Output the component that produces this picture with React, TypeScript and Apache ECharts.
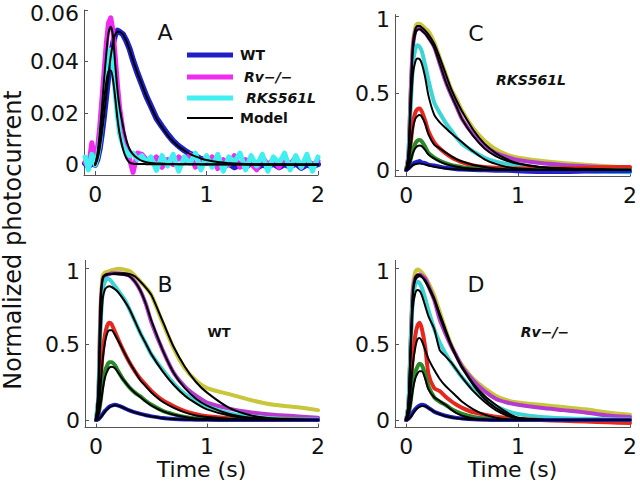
import React, { useEffect, useRef } from "react";
import * as echarts from "echarts";

// ---------- Panel A (single flash responses, three genotypes) ----------
const TA = [-0.09, -0.06, -0.03, 0, 0.02, 0.04, 0.06, 0.08, 0.1, 0.12, 0.14, 0.16, 0.18, 0.2, 0.22, 0.25, 0.28, 0.31, 0.34, 0.38, 0.42, 0.46,
  0.5, 0.55, 0.6, 0.65, 0.7, 0.75, 0.8, 0.85, 0.9, 0.95, 1.0, 1.05, 1.1, 1.15, 1.2, 1.25, 1.3, 1.35, 1.4, 1.45, 1.5, 1.55, 1.6, 1.65, 1.7, 1.75, 1.8, 1.85, 1.9, 1.95, 2.0];
const A_WT = [0.0005, -0.0008, 0.0006, 0.0, 0.002, 0.006, 0.012, 0.019, 0.027, 0.035, 0.042, 0.047, 0.0505, 0.052, 0.0515, 0.0505, 0.048, 0.0448, 0.0405, 0.0355, 0.031, 0.0265,
  0.0228, 0.018, 0.0148, 0.0118, 0.0092, 0.0072, 0.0056, 0.0042, 0.0034, 0.0022, 0.0016, 0.0008, 0.0012, -0.0006, 0.0004, -0.001, 0.0002, -0.0008, 0.0006, -0.0012, 0.0, -0.0006, 0.0004, -0.001, 0.0002, -0.0008, 0.0005, -0.0012, 0.0, -0.0006, 0.0002];
const A_RV = [0.001, -0.001, 0.0085, 0.002, 0.006, 0.014, 0.025, 0.036, 0.047, 0.055, 0.057, 0.052, 0.042, 0.031, 0.022, 0.013, 0.007, 0.002, -0.003, 0.0045, 0.004, 0.002,
  0.001, 0.003, -0.001, 0.002, 0.0, 0.003, 0.001, 0.004, -0.001, 0.002, 0.0005, 0.003, -0.0015, 0.002, 0.0, 0.0035, -0.001, 0.002, 0.0005, -0.002, 0.003, 0.0, 0.002, -0.001, 0.0025, 0.0, 0.003, -0.001, 0.002, 0.0, 0.0015];
const A_RKS = [0.003, -0.002, 0.004, 0.0, 0.003, 0.008, 0.016, 0.026, 0.036, 0.0435, 0.0445, 0.038, 0.028, 0.019, 0.012, 0.0075, 0.005, 0.0035, 0.0045, 0.002, 0.0035, 0.001,
  0.003, -0.0022, 0.0035, -0.0005, 0.004, -0.0025, 0.003, 0.0005, 0.0045, -0.002, 0.0035, -0.001, 0.004, -0.0025, 0.003, 0.001, 0.0045, -0.002, 0.0035, -0.0005, 0.004, -0.0025, 0.003, 0.0005, 0.0045, -0.002, 0.0035, -0.001, 0.004, -0.0025, 0.003];
const TAM = [0, 0.02, 0.04, 0.06, 0.08, 0.1, 0.12, 0.14, 0.16, 0.18, 0.2, 0.22, 0.25, 0.28, 0.31, 0.34, 0.38, 0.42, 0.46, 0.5, 0.55, 0.6, 0.65, 0.7, 0.75, 0.8, 0.85, 0.9, 0.95, 1.0, 1.1, 1.2, 1.4, 1.6, 1.8, 2.0];
const A_WT_MODEL = [0, 0.002, 0.006, 0.012, 0.019, 0.027, 0.035, 0.042, 0.047, 0.0505, 0.0516, 0.0515, 0.0505, 0.048, 0.0445, 0.0405, 0.0355, 0.031, 0.0265, 0.0225, 0.018, 0.0145, 0.0115, 0.009, 0.007, 0.0055, 0.0042, 0.0032, 0.0024, 0.0018, 0.001, 0.0006, 0.0002, 0.0001, 0, 0];
const A_RV_MODEL = [0, 0.004, 0.012, 0.022, 0.033, 0.043, 0.051, 0.0535, 0.05, 0.039, 0.029, 0.022, 0.015, 0.0095, 0.006, 0.004, 0.0025, 0.0015, 0.001, 0.0007, 0.0005, 0.0004, 0.0003, 0.0003, 0.0002, 0.0002, 0.0002, 0.0002, 0.0001, 0.0001, 0.0001, 0.0001, 0, 0, 0, 0];
const A_RKS_MODEL = [0, 0.003, 0.009, 0.017, 0.025, 0.032, 0.0362, 0.0365, 0.033, 0.026, 0.018, 0.012, 0.006, 0.0025, 0.0008, 0.0004, 0.0003, 0.0003, 0.0002, 0.0002, 0.0002, 0.0002, 0.0002, 0.0002, 0.0002, 0.0002, 0.0002, 0.0002, 0.0002, 0.0002, 0.0002, 0.0002, 0.0002, 0.0002, 0.0002, 0.0002];

// ---------- Panels B, C, D (flash series, normalized) ----------
const T = [0, 0.02, 0.04, 0.06, 0.08, 0.1, 0.12, 0.14, 0.17, 0.2, 0.25, 0.3, 0.35, 0.4, 0.45, 0.5, 0.6, 0.7, 0.8, 0.9, 1.0, 1.2, 1.4, 1.6, 1.8, 2.0];

// B: WT
const B_Y = [0, 0.15, 0.75, 0.95, 0.97, 0.975, 0.98, 0.985, 0.99, 0.995, 0.99, 0.98, 0.95, 0.91, 0.87, 0.82, 0.64, 0.47, 0.34, 0.26, 0.21, 0.17, 0.13, 0.1, 0.085, 0.065];
const B_Y_M = [0, 0.2, 0.8, 0.94, 0.955, 0.96, 0.962, 0.963, 0.965, 0.965, 0.965, 0.96, 0.945, 0.91, 0.87, 0.82, 0.65, 0.48, 0.35, 0.25, 0.18, 0.08, 0.03, 0.01, 0.003, 0];
const B_M = [0, 0.15, 0.7, 0.92, 0.945, 0.955, 0.96, 0.965, 0.965, 0.965, 0.96, 0.95, 0.91, 0.85, 0.76, 0.64, 0.46, 0.31, 0.22, 0.16, 0.115, 0.075, 0.05, 0.035, 0.025, 0.015];
const B_M_M = [0, 0.18, 0.75, 0.93, 0.95, 0.955, 0.958, 0.96, 0.96, 0.958, 0.955, 0.945, 0.91, 0.85, 0.76, 0.65, 0.46, 0.31, 0.21, 0.14, 0.095, 0.04, 0.015, 0.005, 0.001, 0];
const B_C = [0, 0.15, 0.6, 0.85, 0.91, 0.93, 0.925, 0.91, 0.88, 0.85, 0.8, 0.73, 0.65, 0.57, 0.5, 0.43, 0.33, 0.24, 0.17, 0.125, 0.09, 0.045, 0.022, 0.012, 0.006, 0.003];
const B_C_M = [0, 0.15, 0.55, 0.8, 0.86, 0.875, 0.88, 0.875, 0.86, 0.84, 0.79, 0.73, 0.65, 0.57, 0.5, 0.43, 0.32, 0.23, 0.16, 0.11, 0.07, 0.03, 0.01, 0.004, 0.001, 0];
const B_R = [0, 0.05, 0.25, 0.45, 0.56, 0.62, 0.64, 0.63, 0.58, 0.53, 0.45, 0.38, 0.32, 0.27, 0.23, 0.19, 0.13, 0.09, 0.058, 0.038, 0.025, 0.012, 0.007, 0.004, 0.002, 0];
const B_R_M = [0, 0.05, 0.22, 0.4, 0.51, 0.57, 0.59, 0.59, 0.56, 0.52, 0.45, 0.38, 0.32, 0.26, 0.22, 0.18, 0.12, 0.08, 0.05, 0.03, 0.02, 0.008, 0.003, 0.001, 0, 0];
const B_G = [0, 0.03, 0.12, 0.24, 0.32, 0.36, 0.38, 0.38, 0.36, 0.32, 0.26, 0.215, 0.18, 0.155, 0.125, 0.1, 0.06, 0.037, 0.02, 0.01, 0.006, 0.003, 0.002, 0.001, 0.001, 0];
const B_G_M = [0, 0.03, 0.1, 0.2, 0.28, 0.32, 0.345, 0.35, 0.34, 0.31, 0.26, 0.215, 0.18, 0.15, 0.12, 0.095, 0.058, 0.035, 0.02, 0.01, 0.006, 0.002, 0, 0, 0, 0];
const B_B = [0, 0.005, 0.02, 0.04, 0.06, 0.075, 0.088, 0.095, 0.1, 0.095, 0.08, 0.063, 0.05, 0.04, 0.031, 0.024, 0.013, 0.007, 0.004, 0.002, 0.001, 0, 0, 0, 0, 0];
const B_B_M = [0, 0.004, 0.017, 0.035, 0.055, 0.07, 0.083, 0.091, 0.097, 0.094, 0.08, 0.063, 0.05, 0.039, 0.03, 0.023, 0.012, 0.006, 0.003, 0.001, 0, 0, 0, 0, 0, 0];

// C: RKS561L
const C_Y = [0, 0.1, 0.5, 0.82, 0.92, 0.95, 0.95, 0.94, 0.92, 0.9, 0.83, 0.73, 0.63, 0.53, 0.46, 0.385, 0.27, 0.19, 0.135, 0.1, 0.08, 0.06, 0.045, 0.035, 0.025, 0.015];
const C_Y_M = [0, 0.1, 0.5, 0.82, 0.91, 0.935, 0.935, 0.925, 0.905, 0.88, 0.82, 0.73, 0.63, 0.53, 0.45, 0.38, 0.26, 0.17, 0.11, 0.07, 0.045, 0.02, 0.012, 0.008, 0.005, 0.003];
const C_M = [0, 0.1, 0.5, 0.8, 0.9, 0.92, 0.92, 0.91, 0.89, 0.86, 0.8, 0.69, 0.58, 0.49, 0.41, 0.33, 0.23, 0.16, 0.11, 0.085, 0.065, 0.045, 0.033, 0.025, 0.018, 0.012];
const C_M_M = [0, 0.1, 0.48, 0.78, 0.88, 0.91, 0.915, 0.905, 0.885, 0.855, 0.795, 0.69, 0.58, 0.49, 0.41, 0.33, 0.22, 0.14, 0.09, 0.06, 0.04, 0.018, 0.008, 0.003, 0.001, 0];
const C_C = [0, 0.08, 0.4, 0.68, 0.78, 0.81, 0.8, 0.77, 0.68, 0.58, 0.44, 0.37, 0.31, 0.26, 0.21, 0.17, 0.12, 0.08, 0.055, 0.04, 0.03, 0.012, 0, -0.008, -0.012, -0.015];
const C_C_M = [0, 0.08, 0.38, 0.62, 0.7, 0.725, 0.72, 0.69, 0.6, 0.48, 0.36, 0.31, 0.275, 0.24, 0.21, 0.18, 0.12, 0.07, 0.04, 0.02, 0.01, 0.003, 0, 0, 0, 0];
const C_R = [0, 0.04, 0.17, 0.3, 0.37, 0.395, 0.4, 0.38, 0.32, 0.25, 0.18, 0.14, 0.11, 0.085, 0.065, 0.05, 0.03, 0.02, 0.015, 0.012, 0.01, 0.01, 0.012, 0.015, 0.018, 0.02];
const C_R_M = [0, 0.04, 0.15, 0.27, 0.33, 0.35, 0.357, 0.345, 0.3, 0.23, 0.165, 0.14, 0.115, 0.09, 0.07, 0.055, 0.033, 0.02, 0.01, 0.005, 0.002, 0, 0, 0, 0, 0];
const C_G = [0, 0.02, 0.07, 0.13, 0.17, 0.19, 0.195, 0.185, 0.15, 0.11, 0.08, 0.06, 0.045, 0.033, 0.025, 0.018, 0.01, 0.005, 0.003, 0.001, 0, 0, 0, 0, 0, 0];
const C_G_M = [0, 0.02, 0.06, 0.11, 0.14, 0.155, 0.16, 0.155, 0.13, 0.1, 0.075, 0.055, 0.04, 0.03, 0.022, 0.015, 0.008, 0.004, 0.002, 0.001, 0, 0, 0, 0, 0, 0];
const C_B = [0, 0.01, 0.025, 0.04, 0.05, 0.055, 0.058, 0.05, 0.045, 0.035, 0.03, 0.022, 0.015, 0.01, 0.005, 0.003, 0, -0.002, -0.004, -0.005, -0.008, -0.012, -0.012, -0.01, -0.008, -0.008];
const C_B_M = [0, 0.008, 0.02, 0.032, 0.038, 0.041, 0.042, 0.04, 0.035, 0.029, 0.021, 0.015, 0.01, 0.007, 0.005, 0.003, 0.001, 0, 0, 0, 0, 0, 0, 0, 0, 0];

// D: Rv-/-
const D_Y = [0, 0.1, 0.55, 0.88, 0.97, 0.99, 0.985, 0.97, 0.94, 0.9, 0.82, 0.71, 0.6, 0.5, 0.42, 0.36, 0.27, 0.21, 0.16, 0.13, 0.115, 0.1, 0.085, 0.07, 0.05, 0.035];
const D_Y_M = [0, 0.1, 0.5, 0.85, 0.94, 0.955, 0.955, 0.945, 0.92, 0.88, 0.8, 0.7, 0.6, 0.5, 0.42, 0.35, 0.24, 0.16, 0.1, 0.05, 0.015, 0.002, 0, 0, 0, 0];
const D_M = [0, 0.1, 0.5, 0.85, 0.93, 0.95, 0.955, 0.95, 0.93, 0.88, 0.79, 0.66, 0.57, 0.49, 0.42, 0.35, 0.26, 0.19, 0.14, 0.115, 0.1, 0.08, 0.065, 0.05, 0.03, 0.02];
const D_M_M = [0, 0.1, 0.48, 0.83, 0.92, 0.94, 0.945, 0.94, 0.91, 0.87, 0.79, 0.68, 0.58, 0.49, 0.41, 0.34, 0.23, 0.14, 0.08, 0.04, 0.012, 0.002, 0, 0, 0, 0];
const D_C = [0, 0.1, 0.48, 0.8, 0.89, 0.91, 0.9, 0.87, 0.8, 0.72, 0.6, 0.51, 0.44, 0.38, 0.33, 0.28, 0.2, 0.14, 0.09, 0.06, 0.04, 0.02, 0.012, 0.008, 0.005, 0.003];
const D_C_M = [0, 0.1, 0.45, 0.74, 0.83, 0.855, 0.85, 0.82, 0.75, 0.68, 0.6, 0.46, 0.42, 0.38, 0.33, 0.28, 0.19, 0.12, 0.065, 0.03, 0.012, 0.002, 0, 0, 0, 0];
const D_R = [0, 0.05, 0.22, 0.42, 0.55, 0.62, 0.64, 0.6, 0.48, 0.3, 0.21, 0.19, 0.155, 0.125, 0.1, 0.08, 0.05, 0.035, 0.022, 0.014, 0.008, 0, -0.005, -0.01, -0.015, -0.02];
const D_R_M = [0, 0.05, 0.2, 0.37, 0.47, 0.53, 0.54, 0.52, 0.46, 0.4, 0.33, 0.27, 0.225, 0.19, 0.155, 0.12, 0.07, 0.035, 0.015, 0.005, 0, 0, 0, 0, 0, 0];
const D_G = [0, 0.03, 0.12, 0.24, 0.31, 0.35, 0.37, 0.36, 0.3, 0.22, 0.15, 0.12, 0.1, 0.075, 0.055, 0.04, 0.02, 0.01, 0.005, 0.002, 0, 0, 0, 0, 0, 0];
const D_G_M = [0, 0.03, 0.1, 0.2, 0.27, 0.305, 0.32, 0.32, 0.27, 0.2, 0.15, 0.125, 0.1, 0.07, 0.045, 0.028, 0.01, 0.004, 0.001, 0, 0, 0, 0, 0, 0, 0];
const D_B = [0, 0.008, 0.025, 0.05, 0.07, 0.085, 0.095, 0.1, 0.095, 0.08, 0.055, 0.04, 0.028, 0.02, 0.014, 0.01, 0.005, 0.002, 0, 0, 0, 0, 0, 0, 0, 0];
const D_B_M = [0, 0.006, 0.02, 0.042, 0.062, 0.077, 0.087, 0.092, 0.09, 0.078, 0.055, 0.038, 0.026, 0.018, 0.012, 0.008, 0.003, 0.001, 0, 0, 0, 0, 0, 0, 0, 0];

const X_TICKS = [0, 1, 2];
const Y_TICKS_A = [0, 0.02, 0.04, 0.06];
const Y_TICKS_N = [0, 0.5, 1];

const FONT = '"DejaVu Sans", "Liberation Sans", Arial, sans-serif';
const AXC = "#555";
const TXT = "#111";

const COL = {
  wt: "#1f1fc8",
  rv: "#f02cf0",
  rks: "#40f0f0",
  yellow: "#c8c63a",
  magenta: "#b53bd0",
  cyan: "#3cd4d4",
  red: "#e8261e",
  green: "#2a8a2a",
  blue: "#2020d0",
};

function xAx(gridIndex: number, name?: string) {
  return {
    type: "value",
    gridIndex,
    min: -0.1,
    max: 2,
    name: name || "",
    nameLocation: "middle",
    nameGap: 31,
    nameTextStyle: { fontSize: 22, fontFamily: FONT, color: TXT },
    axisLine: { show: true, onZero: false, lineStyle: { color: AXC, width: 1 } },
    axisTick: { show: true, inside: true, length: 4, lineStyle: { color: AXC }, customValues: X_TICKS },
    axisLabel: { customValues: X_TICKS, fontSize: 22, fontFamily: FONT, color: TXT, margin: 8 },
    splitLine: { show: false },
  };
}

function yAx(gridIndex: number, min: number, max: number, ticks: number[]) {
  const top = ticks[ticks.length - 1];
  return {
    type: "value",
    gridIndex,
    min,
    max,
    axisLine: { show: true, onZero: false, lineStyle: { color: AXC, width: 1 } },
    axisTick: { show: true, inside: true, length: 4, lineStyle: { color: AXC }, customValues: ticks },
    axisLabel: {
      customValues: ticks,
      fontSize: 22,
      lineHeight: 18,
      fontFamily: FONT,
      color: TXT,
      margin: 5,
      formatter: (v: number) => (v === top ? `{t|${v}}` : `${v}`),
      rich: { t: { fontSize: 22, lineHeight: 18, fontFamily: FONT, color: TXT, padding: [6, 0, 0, 0] } },
    },
    splitLine: { show: false },
  };
}

function line(idx: number, t: number[], v: number[], color: string, width: number, smooth: number) {
  return {
    type: "line",
    xAxisIndex: idx,
    yAxisIndex: idx,
    data: t.map((x, i) => [x, v[i]]),
    symbol: "none",
    showSymbol: false,
    smooth,
    silent: true,
    lineStyle: { color, width, cap: "round", join: "round" },
  };
}

function panelSeries(idx: number, sets: [number[], number[], string][]) {
  const data = sets.map(([d, , c]) => line(idx, T, d, c, 4, 0.25));
  const models = sets.map(([, m]) => line(idx, T, m, "#000", 2, 0.25));
  return [...data, ...models];
}

function text(x: number, y: number, s: string, size: number, opts: any = {}) {
  return {
    type: "text",
    x,
    y,
    rotation: opts.rotation || 0,
    silent: true,
    style: {
      text: s,
      fontSize: size,
      fontFamily: FONT,
      fontWeight: opts.bold ? "bold" : "normal",
      fontStyle: opts.italic ? "italic" : "normal",
      fill: TXT,
      align: opts.align || "center",
      textAlign: opts.align || "center",
      verticalAlign: "middle",
      textVerticalAlign: "middle",
    },
  };
}

function legLine(y: number, color: string, width: number) {
  return {
    type: "line",
    silent: true,
    shape: { x1: 187, y1: y, x2: 233, y2: y },
    style: { stroke: color, lineWidth: width },
  };
}

export default function App() {
  const ref = useRef<HTMLDivElement>(null);
  useEffect(() => {
    document.body.style.margin = "0";
    if (!ref.current) return;
    const chart = echarts.init(ref.current, null, { renderer: "svg" });
    const option = {
      animation: false,
      backgroundColor: "#fff",
      grid: [
        { left: 84, top: 10, width: 234, height: 165, containLabel: false, outerBoundsMode: "none" },
        { left: 85, top: 260.4, width: 233, height: 167.2, containLabel: false, outerBoundsMode: "none" },
        { left: 395, top: 14.5, width: 235, height: 161.7, containLabel: false, outerBoundsMode: "none" },
        { left: 395, top: 260.4, width: 235, height: 167.2, containLabel: false, outerBoundsMode: "none" },
      ],
      xAxis: [xAx(0), xAx(1, "Time (s)"), xAx(2), xAx(3, "Time (s)")],
      yAxis: [
        yAx(0, -0.004, 0.06, Y_TICKS_A),
        yAx(1, -0.05, 1.05, Y_TICKS_N),
        yAx(2, -0.04, 1.01, Y_TICKS_N),
        yAx(3, -0.05, 1.05, Y_TICKS_N),
      ],
      series: [
        line(0, TA, A_WT, COL.wt, 6, 0),
        line(0, TA, A_RV, COL.rv, 5, 0),
        line(0, TA, A_RKS, COL.rks, 5, 0),
        line(0, TAM, A_WT_MODEL, "#000", 2, 0.3),
        line(0, TAM, A_RV_MODEL, "#000", 2, 0.3),
        line(0, TAM, A_RKS_MODEL, "#000", 2, 0.3),
        ...panelSeries(1, [
          [B_Y, B_Y_M, COL.yellow],
          [B_M, B_M_M, COL.magenta],
          [B_C, B_C_M, COL.cyan],
          [B_R, B_R_M, COL.red],
          [B_G, B_G_M, COL.green],
          [B_B, B_B_M, COL.blue],
        ]),
        ...panelSeries(2, [
          [C_Y, C_Y_M, COL.yellow],
          [C_M, C_M_M, COL.magenta],
          [C_C, C_C_M, COL.cyan],
          [C_R, C_R_M, COL.red],
          [C_G, C_G_M, COL.green],
          [C_B, C_B_M, COL.blue],
        ]),
        ...panelSeries(3, [
          [D_Y, D_Y_M, COL.yellow],
          [D_M, D_M_M, COL.magenta],
          [D_C, D_C_M, COL.cyan],
          [D_R, D_R_M, COL.red],
          [D_G, D_G_M, COL.green],
          [D_B, D_B_M, COL.blue],
        ]),
      ],
      graphic: [
        text(13, 240, "Normalized photocurrent", 24, { rotation: Math.PI / 2 }),
        text(165, 32, "A", 22),
        text(165, 284, "B", 22),
        text(476, 33, "C", 22),
        text(476, 284, "D", 22),
        text(531, 80, "RKS561L", 14, { bold: true, italic: true }),
        text(219, 332, "WT", 13, { bold: true }),
        text(545, 332, "Rv\u2212/\u2212", 14, { bold: true, italic: true }),
        legLine(55, COL.wt, 5),
        legLine(77, COL.rv, 5),
        legLine(98, COL.rks, 5),
        legLine(118, "#000", 2),
        text(240, 55, "WT", 14, { bold: true, align: "left" }),
        text(244, 77, "Rv\u2212/\u2212", 14, { bold: true, italic: true, align: "left" }),
        text(246, 98, "RKS561L", 14, { bold: true, italic: true, align: "left" }),
        text(240, 118, "Model", 14, { bold: true, align: "left" }),
      ],
    };
    chart.setOption(option as any);
    return () => chart.dispose();
  }, []);
  return <div ref={ref} style={{ width: 640, height: 489 }} />;
}
